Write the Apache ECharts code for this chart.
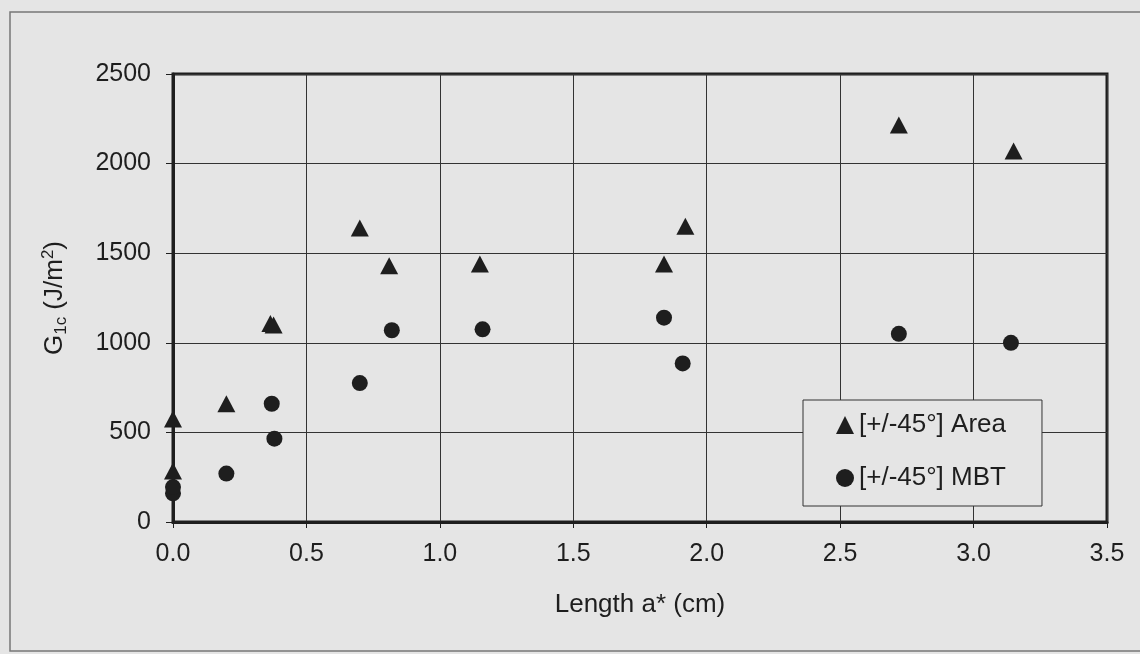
<!DOCTYPE html>
<html>
<head>
<meta charset="utf-8">
<script src="https://cdn.jsdelivr.net/npm/echarts@6/dist/echarts.min.js"></script>
<style>
html,body{margin:0;padding:0;background:#e5e5e5;}
#chart{width:1140px;height:654px;}
</style>
</head>
<body>
<div id="chart"></div>
<script>
// [x (cm), G1c (J/m^2)]
var areaData = [[0, 285], [0, 575], [0.2, 660], [0.365, 1108], [0.377, 1100], [0.70, 1640],
                [0.81, 1430], [1.15, 1440], [1.84, 1440], [1.92, 1650], [2.72, 2215], [3.15, 2070]];
var mbtData = [[0, 160], [0, 195], [0.2, 270], [0.37, 660], [0.38, 465], [0.70, 775],
               [0.82, 1070], [1.16, 1075], [1.84, 1140], [1.91, 885], [2.72, 1050], [3.14, 1000]];
var seriesNames = ['[+/-45°] Area', '[+/-45°] MBT'];
var xRange = [0, 3.5, 0.5];
var yRange = [0, 2500, 500];

var FONT = '"Liberation Sans", Arial, sans-serif';
var INK = '#1e1e1e';
var chart = echarts.init(document.getElementById('chart'));
chart.setOption({
  backgroundColor: '#e5e5e5',
  animation: false,
  graphic: [{
    type: 'rect', silent: true, z: -10,
    shape: {x: 10, y: 12, width: 1200, height: 639},
    style: {fill: 'none', stroke: '#777', lineWidth: 1.5}
  }],
  grid: {left: 173, right: 33, top: 74, bottom: 132, show: true,
         borderColor: INK, borderWidth: 3, backgroundColor: 'transparent'},
  legend: {
    orient: 'vertical', left: 803, top: 400,
    padding: [12, 36, 15, 33], itemGap: 27, itemWidth: 18, itemHeight: 18,
    backgroundColor: '#e5e5e5', borderColor: '#333', borderWidth: 1, borderRadius: 0,
    textStyle: {fontFamily: FONT, fontSize: 26, color: INK, lineHeight: 26},
    data: seriesNames
  },
  xAxis: {
    type: 'value', min: xRange[0], max: xRange[1], interval: xRange[2],
    name: 'Length a* (cm)', nameLocation: 'middle', nameGap: 70,
    nameTextStyle: {fontFamily: FONT, fontSize: 26, color: INK},
    axisLine: {show: true, lineStyle: {color: INK, width: 3}},
    axisTick: {show: true, inside: false, length: 6, lineStyle: {color: INK, width: 1}},
    axisLabel: {margin: 20, fontFamily: FONT, fontSize: 25, color: INK,
                formatter: function (v) { return v.toFixed(1); }},
    splitLine: {show: true, lineStyle: {color: '#333', width: 1}}
  },
  yAxis: {
    type: 'value', min: yRange[0], max: yRange[1], interval: yRange[2],
    name: '{m|G}{sub|1c}{m| (J/m}{sup|2}{m|)}', nameLocation: 'middle', nameGap: 103, nameRotate: 90,
    nameTextStyle: {
      fontFamily: FONT, fontSize: 26, color: INK,
      rich: {
        m: {fontFamily: FONT, fontSize: 26, color: INK, lineHeight: 30},
        sub: {fontFamily: FONT, fontSize: 17, color: INK, verticalAlign: 'bottom', lineHeight: 30},
        sup: {fontFamily: FONT, fontSize: 17, color: INK, verticalAlign: 'top', lineHeight: 30}
      }
    },
    axisLine: {show: true, lineStyle: {color: INK, width: 3}},
    axisTick: {show: true, inside: false, length: 7, lineStyle: {color: INK, width: 1}},
    axisLabel: {margin: 22, fontFamily: FONT, fontSize: 25, color: INK,
                formatter: function (v) { return String(v); }},
    splitLine: {show: true, lineStyle: {color: '#333', width: 1}}
  },
  series: [
    {name: seriesNames[0], type: 'scatter', symbol: 'triangle', symbolSize: [18, 17],
     itemStyle: {color: INK, opacity: 1}, data: areaData},
    {name: seriesNames[1], type: 'scatter', symbol: 'circle', symbolSize: 16,
     itemStyle: {color: INK, opacity: 1}, data: mbtData}
  ]
});
</script>
</body>
</html>
